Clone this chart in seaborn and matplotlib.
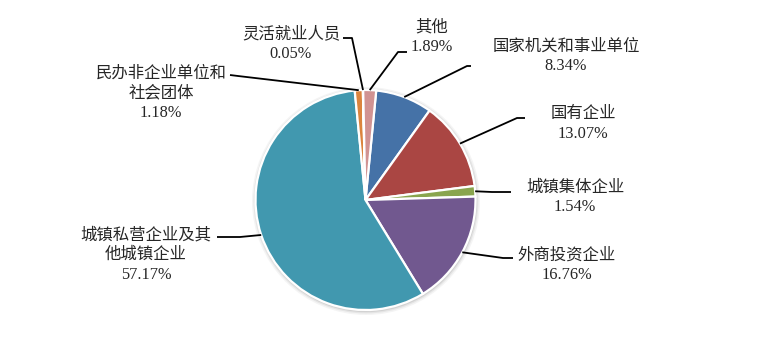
import numpy as np
import matplotlib
matplotlib.use("Agg")
import matplotlib.pyplot as plt
from matplotlib.patches import Circle
import seaborn as sns

# Employment shares by unit type (percent)
categories = ["国家机关和事业单位", "国有企业", "城镇集体企业", "外商投资企业",
              "城镇私营企业及其他城镇企业", "民办非企业单位和社会团体", "灵活就业人员", "其他"]
shares = [8.34, 13.07, 1.54, 16.76, 57.17, 1.18, 0.05, 1.89]
label_text = ["国家机关和事业单位", "国有企业", "城镇集体企业", "外商投资企业",
              "城镇私营企业及其\n他城镇企业", "民办非企业单位和\n社会团体", "灵活就业人员", "其他"]
colors = ["#4572A7", "#AA4643", "#89A54E", "#71588F",
          "#4198AF", "#DB843D", "#93A9CF", "#D19392"]

sns.set_theme(style="white")
plt.rcParams["font.family"] = ["Liberation Serif", "Noto Sans CJK SC", "DejaVu Sans"]

W, H = 767, 356
fig = plt.figure(figsize=(W / 100, H / 100), dpi=100)
ax = fig.add_axes([0, 0, 1, 1])
ax.set_xlim(0, W)
ax.set_ylim(0, H)
ax.set_aspect("equal")
ax.axis("off")

cx, cy, r = 365.5, H - 200, 110
start = 84.4

# soft shadow behind the pie
for k, a in [(4.0, 0.10), (2.5, 0.16), (1.2, 0.25)]:
    ax.add_patch(Circle((cx + 0.5, cy - 1.0), r + k, facecolor="#9a9a9a",
                        edgecolor="none", alpha=a, zorder=1))

palette = sns.color_palette(colors)
wedges, _ = ax.pie(shares, colors=palette, startangle=start, counterclock=False,
                   center=(cx, cy), radius=r, frame=True,
                   wedgeprops=dict(edgecolor="white", linewidth=1.6, zorder=2))
ax.set_xlim(0, W)
ax.set_ylim(0, H)
ax.axis("off")

# label block centres, leader elbows and line ends (pixel space, y from top)
label_pos = [(566, 56.5), (583, 124), (575, 197.5), (567, 265.5),
             (146, 255), (161, 93), (291, 44), (432, 37)]
elbows = [(467, 66), (517, 118), (492, 192), (503, 258),
          (240, 237), (238, 76), (352, 38), (398, 52)]
ends = [(471, 66), (525, 118), (511, 192), (513, 258),
        (217, 237), (230, 75), (343, 38), (407, 52)]

for w, txt, val, (tx, ty), (ex, ey), (lx, ly) in zip(
        wedges, label_text, shares, label_pos, elbows, ends):
    mid = np.deg2rad((w.theta1 + w.theta2) / 2)
    px, py = cx + r * np.cos(mid), cy + r * np.sin(mid)
    ax.plot([px, ex, lx], [py, H - ey, H - ly], color="black", lw=1.3,
            solid_capstyle="butt", zorder=3)
    ax.text(tx, H - ty, f"{txt}\n{val:.2f}%", ha="center", va="center",
            fontsize=11.8, color="#262626", linespacing=1.3, zorder=4)

fig.savefig("out.png", dpi=100)
